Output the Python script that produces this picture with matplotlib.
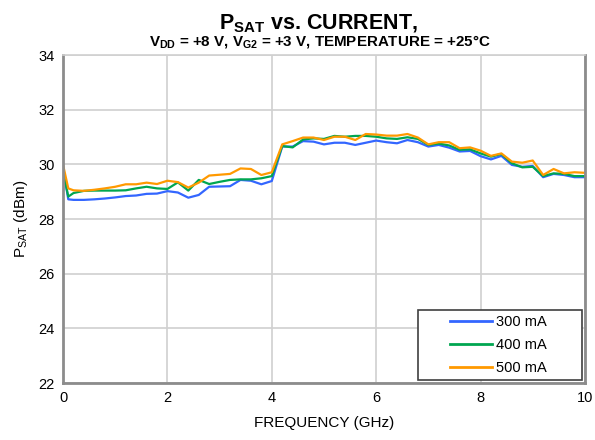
import numpy as np
import matplotlib
matplotlib.use("Agg")
import matplotlib.pyplot as plt
from matplotlib.patches import Rectangle

plt.rcParams['font.family'] = ['Liberation Sans', 'DejaVu Sans']
plt.rcParams['mathtext.fontset'] = 'custom'
plt.rcParams['mathtext.rm'] = 'Liberation Sans'
plt.rcParams['mathtext.bf'] = 'Liberation Sans:bold'

freq = [0, 0.1, 0.2, 0.4, 0.6, 0.8, 1.0, 1.2, 1.4, 1.6, 1.8,
        2.0, 2.2, 2.4, 2.6, 2.8, 3.0, 3.2, 3.4, 3.6, 3.8,
        4.0, 4.2, 4.4, 4.6, 4.8, 5.0, 5.2, 5.4, 5.6, 5.8,
        6.0, 6.2, 6.4, 6.6, 6.8, 7.0, 7.2, 7.4, 7.6, 7.8,
        8.0, 8.2, 8.4, 8.6, 8.8, 9.0, 9.2, 9.4, 9.6, 9.8, 10.0]

psat_300 = [29.85, 28.72, 28.70, 28.70, 28.72, 28.75, 28.79, 28.84, 28.86, 28.92, 28.93,
            29.02, 28.97, 28.78, 28.88, 29.18, 29.19, 29.20, 29.43, 29.40, 29.27,
            29.39, 30.65, 30.65, 30.85, 30.83, 30.73, 30.79, 30.79, 30.71, 30.79,
            30.87, 30.81, 30.77, 30.89, 30.81, 30.65, 30.71, 30.61, 30.47, 30.49,
            30.30, 30.18, 30.31, 29.98, 29.91, 29.94, 29.53, 29.65, 29.61, 29.53, 29.53]

psat_400 = [29.75, 28.82, 28.95, 29.03, 29.04, 29.04, 29.04, 29.05, 29.12, 29.18, 29.12,
            29.10, 29.34, 29.04, 29.43, 29.28, 29.36, 29.43, 29.45, 29.45, 29.49,
            29.57, 30.67, 30.62, 30.91, 30.95, 30.93, 31.04, 31.01, 31.04, 31.04,
            31.01, 30.95, 30.93, 30.99, 30.93, 30.71, 30.76, 30.69, 30.53, 30.55,
            30.40, 30.28, 30.38, 30.04, 29.89, 29.91, 29.57, 29.67, 29.65, 29.57, 29.57]

psat_500 = [29.98, 29.12, 29.05, 29.03, 29.07, 29.12, 29.18, 29.27, 29.27, 29.33, 29.28,
            29.40, 29.35, 29.15, 29.33, 29.59, 29.62, 29.65, 29.85, 29.83, 29.61,
            29.71, 30.73, 30.85, 30.98, 30.98, 30.89, 31.01, 31.01, 30.89, 31.11,
            31.09, 31.05, 31.05, 31.11, 30.98, 30.73, 30.81, 30.81, 30.59, 30.62,
            30.50, 30.31, 30.40, 30.10, 30.06, 30.14, 29.61, 29.83, 29.67, 29.71, 29.69]

labels = ['300 mA', '400 mA', '500 mA']
colors = ['#3366FF', '#00A650', '#FF9900']

fig = plt.figure(figsize=(5.95, 4.4), dpi=100)
ax = fig.add_axes([0.106, 0.1295, 0.877, 0.7455])

for ys, lab, c in zip([psat_300, psat_400, psat_500], labels, colors):
    ax.plot(freq, ys, color=c, lw=1.6, label=lab)

ax.set_xlim(0, 10)
ax.set_ylim(22, 34)
ax.set_xticks(np.arange(0, 11, 2))
ax.set_yticks(np.arange(22, 35, 2))
ax.grid(True, color='#D0D0D0', lw=1.2)
ax.set_axisbelow(True)
ax.tick_params(length=0, labelsize=10.5, pad=6)

for s in ['left', 'right', 'bottom']:
    ax.spines[s].set_color('#8C8C8C')
    ax.spines[s].set_linewidth(2)
ax.spines['top'].set_color('#D0D0D0')
ax.spines['top'].set_linewidth(1.2)

ax.set_xlabel('FREQUENCY (GHz)', fontsize=11, labelpad=8)
ax.set_ylabel(r'P$_{\mathrm{SAT}}$ (dBm)', fontsize=11, labelpad=6)

fig.text(0.535, 0.945, r'$\mathbf{P_{SAT}}$ vs. CURRENT,', ha='center', va='center',
         fontsize=15.5, fontweight='bold')
fig.text(0.538, 0.905, r'$\mathbf{V_{DD}}$ = +8 V, $\mathbf{V_{G2}}$ = +3 V, TEMPERATURE = +25°C',
         ha='center', va='center', fontsize=10.9, fontweight='bold')

# legend box drawn separately so the handles can sit away from its left edge
ax.add_patch(Rectangle((0.680, 0.009), 0.314, 0.214, transform=ax.transAxes,
                       facecolor='white', edgecolor='#404040', lw=1.2, zorder=5))
leg = ax.legend(loc='center left', bbox_to_anchor=(0.741, 0.116), fontsize=10.5,
                handlelength=2.9, frameon=False, borderpad=0, borderaxespad=0,
                labelspacing=0.6, handletextpad=0.3)
leg.set_zorder(6)
for line in leg.get_lines():
    line.set_linewidth(2)

fig.savefig('out.png', dpi=100)
